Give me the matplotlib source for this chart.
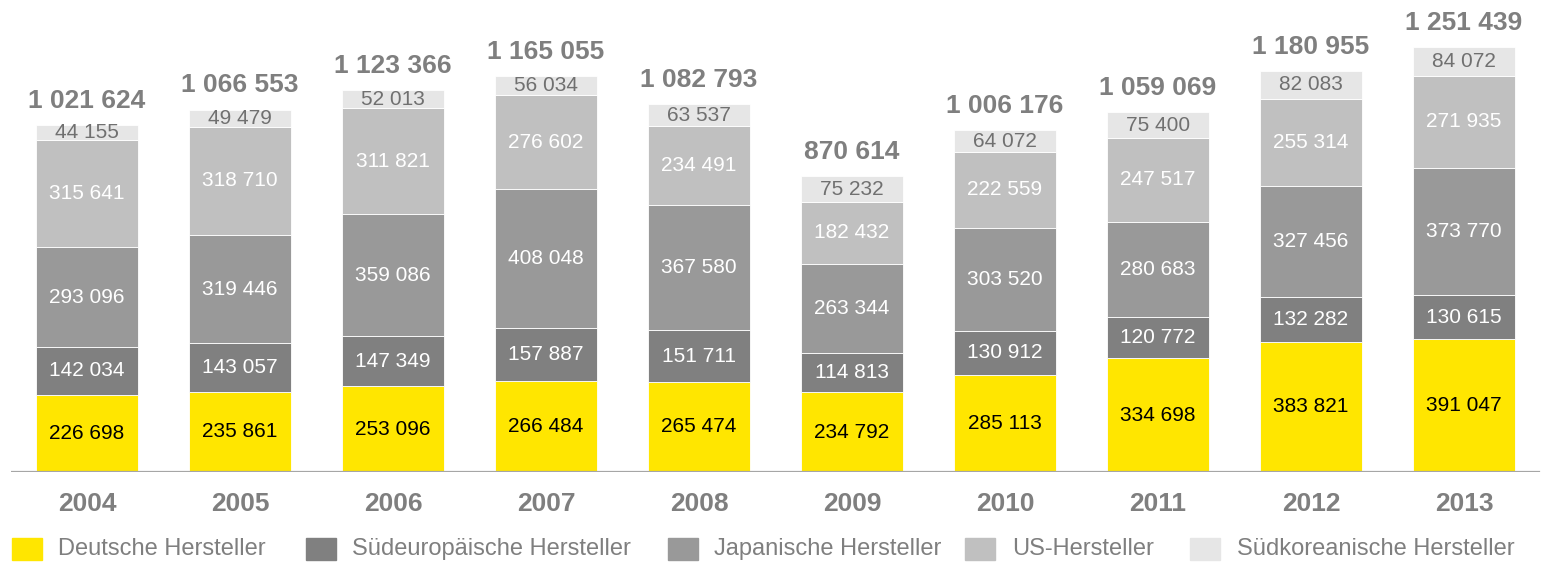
import matplotlib
matplotlib.use("Agg")
import matplotlib.pyplot as plt
from matplotlib.patches import Rectangle
import numpy as np

years = ["2004", "2005", "2006", "2007", "2008", "2009", "2010", "2011", "2012", "2013"]
deutsche = [226698, 235861, 253096, 266484, 265474, 234792, 285113, 334698, 383821, 391047]
suedeuropa = [142034, 143057, 147349, 157887, 151711, 114813, 130912, 120772, 132282, 130615]
japan = [293096, 319446, 359086, 408048, 367580, 263344, 303520, 280683, 327456, 373770]
us = [315641, 318710, 311821, 276602, 234491, 182432, 222559, 247517, 255314, 271935]
korea = [44155, 49479, 52013, 56034, 63537, 75232, 64072, 75400, 82083, 84072]
totals = [1021624, 1066553, 1123366, 1165055, 1082793, 870614, 1006176, 1059069, 1180955, 1251439]

series_names = ["Deutsche Hersteller", "Südeuropäische Hersteller", "Japanische Hersteller",
                "US-Hersteller", "Südkoreanische Hersteller"]
series = [deutsche, suedeuropa, japan, us, korea]
colors = ["#FFE600", "#808080", "#999999", "#C0C0C0", "#E6E6E6"]
label_colors = ["#000000", "#FFFFFF", "#FFFFFF", "#FFFFFF", "#707070"]

plt.rcParams['font.family'] = ['Liberation Sans', 'DejaVu Sans']

W, H = 1541, 563
fig = plt.figure(figsize=(W / 100, H / 100), dpi=100)
base_px = 472
top_px = 14
ax = fig.add_axes([10.5 / W, (H - base_px) / H, 1530 / W, (base_px - top_px) / H])
ymax = 1251439 * (base_px - top_px) / (472 - 47)
ax.set_ylim(0, ymax)
ax.set_xlim(-0.5, 9.5)
for s in ax.spines.values():
    s.set_visible(False)
ax.set_xticks([])
ax.set_yticks([])

def fmt(v):
    return f"{v:,}".replace(",", " ")

x = np.arange(len(years))
bottom = np.zeros(len(years))
for vals, c, lc in zip(series, colors, label_colors):
    vals = np.array(vals, dtype=float)
    ax.bar(x, vals, bottom=bottom, width=0.667, color=c, edgecolor="white", linewidth=0.6, zorder=2)
    for xi, b, v in zip(x, bottom, vals):
        ax.text(xi, b + v / 2, fmt(int(v)), ha="center", va="center", color=lc, fontsize=15, zorder=3)
    bottom += vals

for xi, t, b in zip(x, totals, bottom):
    ax.annotate(fmt(t), (xi, b), xytext=(0, 12.5), textcoords="offset points",
                ha="center", va="baseline", fontsize=19, fontweight="bold", color="#7f7f7f")

ax.axhline(0, xmin=0, xmax=1528 / 1530, color="#a6a6a6", lw=1.6, zorder=4)
for xi, yl in zip(x, years):
    ax.annotate(yl, (xi, 0), xytext=(0, -23), textcoords="offset points",
                ha="center", va="center", fontsize=19, fontweight="bold", color="#7f7f7f")

# legend
sq_x = [12, 306, 668, 965, 1190]
tx_x = [58, 352, 714, 1012, 1237]
for sx, tx, c, name in zip(sq_x, tx_x, colors, series_names):
    fig.patches.append(Rectangle((sx / W, (H - 560) / H), 30 / W, 22 / H,
                                 transform=fig.transFigure, color=c))
    fig.text(tx / W, (H - 549) / H, name, ha="left", va="center", fontsize=17, color="#7f7f7f")

fig.savefig("out.png", dpi=100)
